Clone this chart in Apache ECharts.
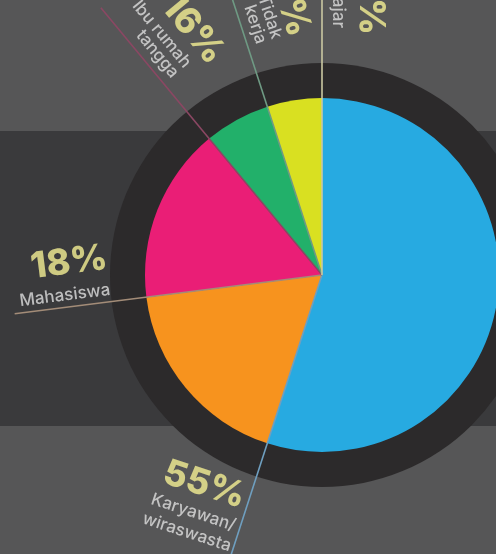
<!DOCTYPE html>
<html><head><meta charset="utf-8">
<script src="https://cdn.jsdelivr.net/npm/echarts@6/dist/echarts.min.js"></script>
<style>html,body{margin:0;padding:0;background:#565657;}#c{width:496px;height:554px;}</style>
</head><body><div id="c"></div>
<script>
const categories = ['Karyawan/\nwiraswasta', 'Mahasiswa', 'Ibu rumah\ntangga', 'Tidak\nkerja', 'Pelajar'];
const values = [55, 18, 16, 6, 5];
const pctLabels = ['55%', '18%', '16%', '6%', '5%'];

const CX = 322, CY = 275, R = 177;
const sliceColors = ['#27aae1', '#f7931e', '#ea1e76', '#22b06a', '#d9e021'];
const lineColors = ['#6f9fc0', '#a38c78', '#8b4763', '#6f9a84', '#cbc8a2'];
const lineLen = [1.75, 1.75, 1.96, 1.72, 1.6];
const layout = [
  { mode: 'tan', pct: { r: 236, off: -47 }, name: { r: 276, off: -49, lh: 21 } },
  { mode: 'rad', pct: { end: 211, d: 44 }, name: { end: 212, d: 12, lh: 16 } },
  { mode: 'rad', pct: { end: 233, d: 57 }, name: { end: 247, d: 22, lh: 16 } },
  { mode: 'rad', pct: { end: 235, d: 53 }, name: { end: 239, d: 22, lh: 16 } },
  { mode: 'rad', pct: { end: 240, d: 49 }, name: { end: 247, d: 16, lh: 16 } }
];

const ends = [];
values.reduce((s, v) => { ends.push(s + v); return s + v; }, 0);
const total = ends[ends.length - 1];
const angVal = ends.map(e => e / total * 100);

const pctStyle = { color: '#f4ef93', fontFamily: 'Inter', fontWeight: 800, fontSize: 36 };
const nameStyle = { color: '#dedede', fontFamily: 'Inter', fontWeight: 500, fontSize: 17 };

const labelItems = [];
categories.forEach((c, i) => {
  const th = angVal[i] * 3.6;
  const L = layout[i];
  [['pct', pctLabels[i], pctStyle], ['name', c, nameStyle]].forEach(([k, txt, st]) => {
    const p = L[k];
    if (L.mode === 'rad') {
      labelItems.push({ value: [p.end / R, angVal[i]], label: Object.assign({
        show: true, position: 'inside', formatter: txt, rotate: 270 - th,
        align: 'right', verticalAlign: 'middle', offset: [0, -p.d], lineHeight: p.lh || 40
      }, st) });
    } else {
      labelItems.push({ value: [p.r / R, angVal[i]], label: Object.assign({
        show: true, position: 'inside', formatter: txt, rotate: 180 - th,
        align: 'center', verticalAlign: 'middle', offset: [p.off, 0], lineHeight: p.lh || 40
      }, st) });
    }
  });
});

const lineSeries = categories.map((c, i) => ({
  type: 'line', coordinateSystem: 'polar', clip: false, silent: true, z: 5,
  symbol: 'none', lineStyle: { color: lineColors[i], width: 1.6 },
  data: [[0, angVal[i]], [lineLen[i], angVal[i]]]
}));

const chart = echarts.init(document.getElementById('c'), null, { renderer: 'canvas' });
chart.setOption({
  animation: false,
  backgroundColor: '#565657',
  graphic: [
    { type: 'rect', z: 0, shape: { x: 0, y: 131, width: 496, height: 295 }, style: { fill: '#3a3a3c' } },
    { type: 'circle', z: 0, shape: { cx: CX, cy: CY, r: 212 }, style: { fill: '#2c2a2b' } }
  ],
  polar: { center: [CX, CY], radius: 2 * R },
  angleAxis: { type: 'value', min: 0, max: 100, startAngle: 90, clockwise: true, show: false },
  radiusAxis: { type: 'value', min: 0, max: 2, show: false },
  series: [
    {
      type: 'pie', center: [CX, CY], radius: [0, R], startAngle: 90, clockwise: true,
      silent: true, z: 2, label: { show: false }, labelLine: { show: false },
      data: categories.map((c, i) => ({ name: c, value: values[i], itemStyle: { color: sliceColors[i] } }))
    },
    ...lineSeries,
    {
      type: 'scatter', coordinateSystem: 'polar', clip: false, silent: true, z: 6,
      symbolSize: 0, data: labelItems
    }
  ]
});
</script></body></html>
